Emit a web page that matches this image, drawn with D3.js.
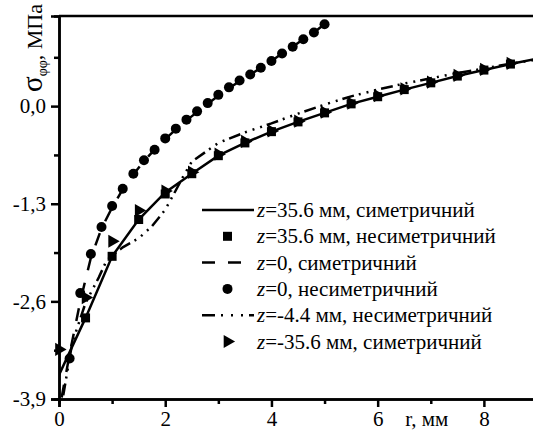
<!DOCTYPE html>
<html>
<head>
<meta charset="utf-8">
<script src="https://cdn.jsdelivr.net/npm/d3@7"></script>
</head>
<body style="margin:0; background:#fff">
<div id="chart"></div>
<script>
// z=35.6 мм, симетричний (суцільна лінія)
const rSym356 = [0, 0.5, 1, 1.5, 2, 2.5, 3, 3.5, 4, 4.5, 5, 5.5, 6, 6.5, 7, 7.5, 8, 8.5, 9];
const sSym356 = [-3.58, -2.82, -2.0, -1.51, -1.15, -0.90, -0.66, -0.49, -0.34, -0.21, -0.09, 0.03, 0.125, 0.22, 0.31, 0.40, 0.48, 0.56, 0.63];

// z=35.6 мм, несиметричний (квадрати)
const rNon356 = [0.5, 1, 1.5, 2, 2.5, 3, 3.5, 4, 4.5, 5, 5.5, 6, 6.5, 7, 7.5, 8, 8.5];
const sNon356 = [-2.82, -2.0, -1.51, -1.17, -0.90, -0.66, -0.49, -0.34, -0.21, -0.09, 0.03, 0.125, 0.22, 0.31, 0.40, 0.48, 0.56];

// z=0, симетричний (штрихова)
const rSym0 = [0.05, 0.2, 0.4, 0.6, 0.8, 1.0, 1.2, 1.4, 1.6, 1.8, 2.0, 2.2, 2.4, 2.6, 2.8, 3.0, 3.2, 3.4, 3.6, 3.8, 4.0, 4.2, 4.4, 4.6, 4.8, 5.0];
const sSym0 = [-3.88, -3.3, -2.6, -2.02, -1.63, -1.35, -1.11, -0.91, -0.73, -0.58, -0.44, -0.31, -0.19, -0.08, 0.03, 0.14, 0.24, 0.33, 0.42, 0.51, 0.60, 0.70, 0.79, 0.89, 0.98, 1.09];

// z=0, несиметричний (кружки)
const rNon0 = [0.2, 0.4, 0.6, 0.8, 1.0, 1.2, 1.4, 1.6, 1.8, 2.0, 2.2, 2.4, 2.6, 2.8, 3.0, 3.2, 3.4, 3.6, 3.8, 4.0, 4.2, 4.4, 4.6, 4.8, 5.0];
const sNon0 = [-3.36, -2.49, -1.97, -1.61, -1.33, -1.10, -0.90, -0.72, -0.58, -0.43, -0.30, -0.18, -0.07, 0.04, 0.15, 0.25, 0.34, 0.42, 0.51, 0.60, 0.70, 0.79, 0.89, 0.98, 1.09];

// z=-4.4 мм, несиметричний (штрих-пунктир)
const rNon44 = [0.08, 0.25, 0.5, 0.75, 0.9, 1.2, 1.5, 1.75, 2.0, 2.2, 2.35, 2.5, 3.0, 3.5, 4.0, 4.5, 5.0, 5.5, 6.0, 6.5, 7.0, 7.5, 8.0, 8.5, 9.0];
const sNon44 = [-3.85, -3.15, -2.62, -2.28, -2.05, -1.88, -1.76, -1.6, -1.38, -1.12, -0.92, -0.74, -0.49, -0.35, -0.23, -0.10, 0.02, 0.13, 0.22, 0.30, 0.37, 0.44, 0.50, 0.565, 0.62];

// z=-35.6 мм, симетричний (трикутники)
const rSymM356 = [0, 0.5, 1, 1.5, 2, 2.5, 3, 3.5, 4, 4.5, 5, 5.5, 6, 6.5, 7, 7.5, 8, 8.5];
const sSymM356 = [-3.24, -2.55, -1.80, -1.39, -1.13, -0.88, -0.64, -0.47, -0.33, -0.20, -0.08, 0.04, 0.14, 0.23, 0.32, 0.41, 0.49, 0.57];

// Осі
const xMajor = [0, 2, 4, 6, 8];
const xMinor = [1, 3, 5, 7, 9];
const yMajor = [-3.9, -2.6, -1.3, 0.0];
const yMinor = [-3.25, -1.95, -0.65, 0.65];
const xTitle = "r, мм";

const legendItems = [
    { label: "=35.6 мм, симетричний", type: "solid" },
    { label: "=35.6 мм, несиметричний", type: "square" },
    { label: "=0, симетричний", type: "dash" },
    { label: "=0, несиметричний", type: "circle" },
    { label: "=-4.4 мм, несиметричний", type: "dashdot" },
    { label: "=-35.6 мм, симетричний", type: "triangle" }
];

const FONT = "Liberation Serif";
const width = 533, height = 430;
const margin = { top: 16, left: 59, bottom: 399, right: 537 };

const svg = d3.select("#chart").append("svg")
    .attr("width", width)
    .attr("height", height)
    .attr("font-family", FONT);

const x = d3.scaleLinear().domain([0, 9]).range([margin.left, margin.right]);
const y = d3.scaleLinear().domain([-3.9, 1.2]).range([margin.bottom, margin.top]);

svg.append("clipPath").attr("id", "clip")
    .append("rect")
    .attr("x", margin.left).attr("y", margin.top)
    .attr("width", margin.right - margin.left)
    .attr("height", margin.bottom - margin.top);

const zip = (rs, vs) => rs.map((r, i) => [r, vs[i]]);
const line = d3.line().x(d => x(d[0])).y(d => y(d[1]));

const dashDot = "12,5,2,6,2,6,2,5";

const plot = svg.append("g").attr("clip-path", "url(#clip)");

function addLine(pts, dash) {
    plot.append("path")
        .datum(pts)
        .attr("d", line)
        .attr("fill", "none")
        .attr("stroke", "#000")
        .attr("stroke-width", 2.5)
        .attr("stroke-dasharray", dash);
}

addLine(zip(rSym356, sSym356), null);
addLine(zip(rSym0, sSym0), "13,13");
addLine(zip(rNon44, sNon44), dashDot);

// Маркери
const tri = d3.symbol().type(d3.symbolTriangle).size(75);

svg.append("g").selectAll("rect")
    .data(zip(rNon356, sNon356))
    .join("rect")
    .attr("x", d => x(d[0]) - 4.5)
    .attr("y", d => y(d[1]) - 4.5)
    .attr("width", 9).attr("height", 9)
    .attr("fill", "#000");

svg.append("g").selectAll("circle")
    .data(zip(rNon0, sNon0))
    .join("circle")
    .attr("cx", d => x(d[0]))
    .attr("cy", d => y(d[1]))
    .attr("r", 5)
    .attr("fill", "#000");

svg.append("g").selectAll("path")
    .data(zip(rSymM356, sSymM356))
    .join("path")
    .attr("d", tri)
    .attr("transform", d => `translate(${x(d[0])},${y(d[1])}) rotate(90)`)
    .attr("fill", "#000");

// Рамка та осі
svg.append("line")
    .attr("x1", margin.left).attr("x2", margin.right)
    .attr("y1", margin.top).attr("y2", margin.top)
    .attr("stroke", "#000").attr("stroke-width", 2.5);

const xAxis = svg.append("g").attr("transform", `translate(0,${margin.bottom})`);
xAxis.call(d3.axisBottom(x).tickValues(xMajor).tickSize(8).tickPadding(5).tickFormat(d3.format("d")));
xAxis.append("g").call(d3.axisBottom(x).tickValues(xMinor).tickSize(5).tickFormat(""));

const yAxis = svg.append("g").attr("transform", `translate(${margin.left},0)`);
yAxis.call(d3.axisLeft(y).tickValues(yMajor).tickSize(8).tickPadding(5)
    .tickFormat(d => d3.format(".1f")(d).replace("−", "-").replace(".", ",")));
yAxis.append("g").call(d3.axisLeft(y).tickValues(yMinor).tickSize(5).tickFormat(""));

svg.selectAll("g").attr("font-family", FONT);
svg.selectAll(".domain").attr("stroke", "#000").attr("stroke-width", 2.5);
svg.selectAll(".tick line").attr("stroke", "#000").attr("stroke-width", 2.5);
svg.selectAll(".tick text")
    .attr("font-family", FONT)
    .attr("font-size", 21)
    .attr("fill", "#000");
xAxis.selectAll(".tick text").attr("dy", "0.68em");

svg.append("text")
    .attr("x", x(7) - 4)
    .attr("y", 426)
    .attr("text-anchor", "middle")
    .attr("font-family", FONT)
    .attr("font-size", 21)
    .text(xTitle);

const yTitle = svg.append("text")
    .attr("transform", "translate(42,92) rotate(-90)")
    .attr("font-family", FONT)
    .attr("font-size", 22);
yTitle.append("tspan").attr("font-size", 29).text("σ");
yTitle.append("tspan").attr("font-size", 14).attr("dy", 5).text("φφ");
yTitle.append("tspan").attr("dy", -5).text(", МПа");

// Легенда
const legend = svg.append("g");
legendItems.forEach((item, i) => {
    const cy = 210 + i * 26.3;
    const g = legend.append("g");
    if (item.type === "solid" || item.type === "dash" || item.type === "dashdot") {
        g.append("line")
            .attr("x1", 202).attr("x2", item.type === "dash" ? 242 : 254)
            .attr("y1", cy).attr("y2", cy)
            .attr("stroke", "#000").attr("stroke-width", 2.5)
            .attr("stroke-dasharray", item.type === "dash" ? "13,13" : item.type === "dashdot" ? "13,6,2,8,2,8,2,6" : null);
    } else if (item.type === "square") {
        g.append("rect").attr("x", 223).attr("y", cy - 4.5).attr("width", 9).attr("height", 9).attr("fill", "#000");
    } else if (item.type === "circle") {
        g.append("circle").attr("cx", 227.5).attr("cy", cy).attr("r", 5).attr("fill", "#000");
    } else {
        g.append("path").attr("d", tri).attr("transform", `translate(227.5,${cy}) rotate(90)`).attr("fill", "#000");
    }
    const t = g.append("text").attr("x", 257).attr("y", cy + 7)
        .attr("font-family", FONT).attr("font-size", 21);
    t.append("tspan").attr("font-style", "italic").text("z");
    t.append("tspan").text(item.label);
});
</script>
</body>
</html>
